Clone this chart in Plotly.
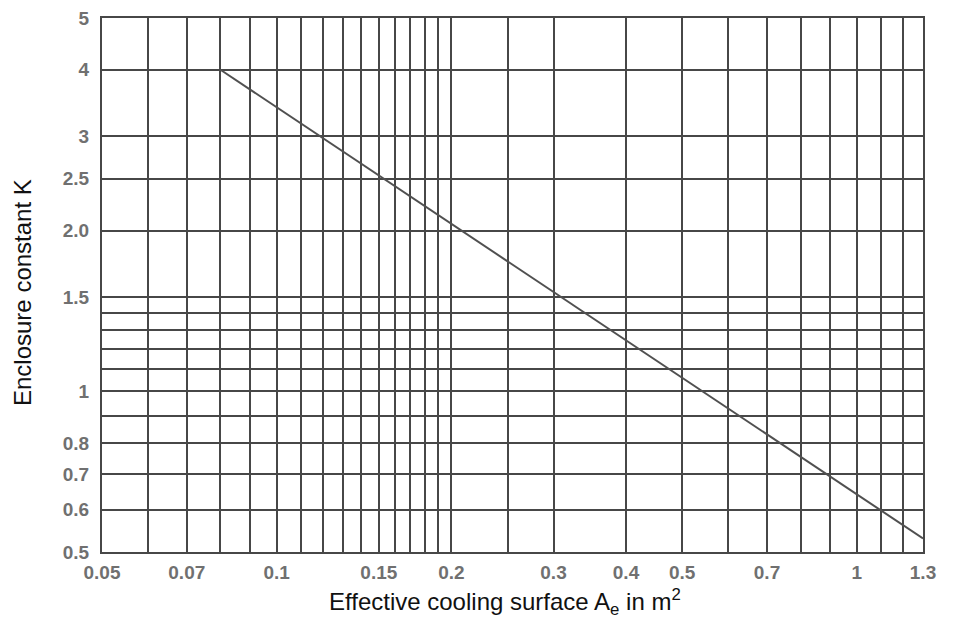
import math
import plotly.graph_objects as go

# ---- data ----
x_grid = [0.05, 0.06, 0.07, 0.08, 0.09, 0.1, 0.11, 0.12, 0.13, 0.14, 0.15, 0.16,
          0.17, 0.18, 0.19, 0.2, 0.25, 0.3, 0.4, 0.5, 0.6, 0.7, 0.8, 0.9, 1.0,
          1.1, 1.2, 1.3]
x_labels = {0.05: "0.05", 0.07: "0.07", 0.1: "0.1", 0.15: "0.15", 0.2: "0.2",
            0.3: "0.3", 0.4: "0.4", 0.5: "0.5", 0.7: "0.7", 1.0: "1", 1.3: "1.3"}

y_grid = [0.5, 0.6, 0.7, 0.8, 0.9, 1.0, 1.1, 1.2, 1.3, 1.4, 1.5, 2.0, 2.5, 3, 4, 5]
y_labels = {0.5: "0.5", 0.6: "0.6", 0.7: "0.7", 0.8: "0.8", 1.0: "1", 1.5: "1.5",
            2.0: "2.0", 2.5: "2.5", 3: "3", 4: "4", 5: "5"}

area = [0.08, 1.3]        # effective cooling surface A_e (m²)
k_const = [4.0, 0.53]     # enclosure constant K

x_range = [0.05, 1.3]
y_range = [0.5, 5]

# ---- figure ----
grid_col = "#474747"
tick_font = dict(family="Liberation Sans, Arial, sans-serif", size=19,
                 color="#707070", weight="bold")
title_font = dict(family="Liberation Sans, Arial, sans-serif", size=24,
                  color="#111111")

fig = go.Figure()
fig.add_trace(go.Scatter(x=area, y=k_const, mode="lines",
                         line=dict(color="#505050", width=2),
                         showlegend=False, hoverinfo="x+y"))

fig.update_xaxes(
    type="log",
    range=[math.log10(x_range[0]), math.log10(x_range[1])],
    tickmode="array",
    tickvals=x_grid,
    ticktext=[x_labels.get(v, "") for v in x_grid],
    showgrid=True, gridcolor=grid_col, gridwidth=1.6,
    showline=True, linecolor=grid_col, linewidth=2, mirror=True,
    zeroline=False, ticks="", tickfont=tick_font,
    ticklabelstandoff=2, ticklabeloverflow="allow",
)
fig.update_yaxes(
    type="log",
    range=[math.log10(y_range[0]), math.log10(y_range[1])],
    tickmode="array",
    tickvals=y_grid,
    ticktext=[y_labels.get(v, "") for v in y_grid],
    showgrid=True, gridcolor=grid_col, gridwidth=1.6,
    showline=True, linecolor=grid_col, linewidth=2, mirror=True,
    zeroline=False, ticks="", tickfont=tick_font,
    ticklabelstandoff=7, ticklabeloverflow="allow",
)

fig.add_annotation(text="Effective cooling surface A<sub>e</sub> in m<sup>2</sup>",
                   xref="paper", yref="paper", x=0.491, y=0, yshift=-50,
                   xanchor="center", yanchor="middle", showarrow=False,
                   font=title_font)
fig.add_annotation(text="Enclosure constant K", textangle=-90,
                   xref="paper", yref="paper", x=0, xshift=-80, y=0.485,
                   xanchor="center", yanchor="middle", showarrow=False,
                   font=title_font)

# page body has an 8px margin: size the figure so it fits the 955x625 window
fig.update_layout(
    width=947, height=617,
    margin=dict(l=94, r=32, t=10, b=73, autoexpand=False),
    plot_bgcolor="white", paper_bgcolor="white",
    showlegend=False,
)

fig.write_html("out.html")
